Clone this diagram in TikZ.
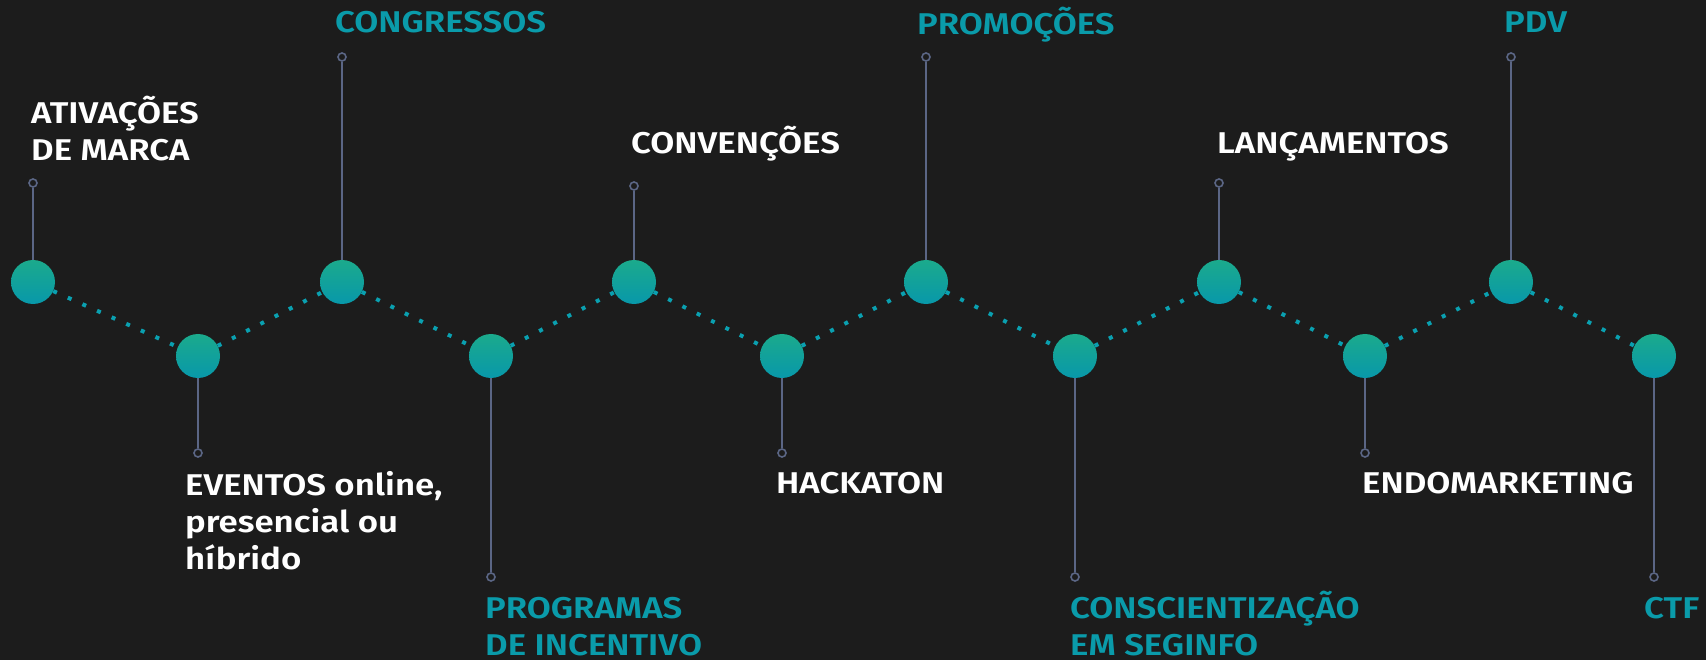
\documentclass[tikz,border=0pt]{standalone}
\usepackage{fontspec}
\setmainfont{Fira Sans}[UprightFont=* SemiBold, FakeStretch=1.16]
\definecolor{bg}{HTML}{1C1C1C}
\definecolor{tealtxt}{HTML}{0A9BAA}
\definecolor{dotc}{HTML}{0AA0B0}
\definecolor{stemc}{HTML}{5B6685}
\definecolor{ctop}{HTML}{1BAA8C}
\definecolor{cbot}{HTML}{0898AA}
\tikzset{
  x=1pt, y=-1pt,
  dot/.style={circle, minimum size=44pt, inner sep=0pt, shading=axis, top color=ctop, bottom color=cbot, draw=none},
  ring/.style={circle, minimum size=8pt, inner sep=0pt, draw=stemc, line width=1.6pt},
  stem/.style={draw=stemc, line width=1.8pt},
  link/.style={draw=dotc, line width=4pt, dash pattern=on 4pt off 12pt},
  lbl/.style={anchor=base west, inner sep=0pt, align=left, font=\fontsize{30}{37}\selectfont},
  wlbl/.style={lbl, text=white},
  tlbl/.style={lbl, text=tealtxt}
}
\begin{document}
\begin{tikzpicture}
\fill[bg] (0,0) rectangle (1706,660);
\useasboundingbox (0,0) rectangle (1706,660);
% main nodes
\node[dot] (n1) at (33,282) {};
\node[dot] (n2) at (198,356) {};
\node[dot] (n3) at (342,282) {};
\node[dot] (n4) at (491,356) {};
\node[dot] (n5) at (634,282) {};
\node[dot] (n6) at (782,356) {};
\node[dot] (n7) at (926,282) {};
\node[dot] (n8) at (1075,356) {};
\node[dot] (n9) at (1219,282) {};
\node[dot] (n10) at (1365,356) {};
\node[dot] (n11) at (1511,282) {};
\node[dot] (n12) at (1654,356) {};
% dotted links
\foreach \a/\b in {n1/n2,n2/n3,n3/n4,n4/n5,n5/n6,n6/n7,n7/n8,n8/n9,n9/n10,n10/n11,n11/n12}
  \draw[link] (\a) -- (\b);
% rings
\node[ring] (r1) at (33,183) {};
\node[ring] (r2) at (198,453) {};
\node[ring] (r3) at (342,57) {};
\node[ring] (r4) at (491,577) {};
\node[ring] (r5) at (634,186) {};
\node[ring] (r6) at (782,453) {};
\node[ring] (r7) at (926,57) {};
\node[ring] (r8) at (1075,577) {};
\node[ring] (r9) at (1219,183) {};
\node[ring] (r10) at (1365,453) {};
\node[ring] (r11) at (1511,57) {};
\node[ring] (r12) at (1654,577) {};
\foreach \i in {1,...,12}
  \draw[stem] (n\i) -- (r\i);
% labels (base = last line for multi-line labels)
\node[wlbl] (t1) at (31,161) {ATIVAÇÕES\\DE MARCA};
\node[wlbl] (t2) at (185,569) {EVENTOS online,\\presencial ou\\híbrido};
\node[tlbl] (t3) at (335,33) {CONGRESSOS};
\node[tlbl] (t4) at (485,655) {PROGRAMAS\\DE INCENTIVO};
\node[wlbl] (t5) at (631,154) {CONVENÇÕES};
\node[wlbl] (t6) at (776,493) {HACKATON};
\node[tlbl] (t7) at (917,35) {PROMOÇÕES};
\node[tlbl] (t8) at (1070,655) {CONSCIENTIZAÇÃO\\EM SEGINFO};
\node[wlbl] (t9) at (1217,154) {LANÇAMENTOS};
\node[wlbl] (t10) at (1362,493) {ENDOMARKETING};
\node[tlbl] (t11) at (1504,33) {PDV};
\node[tlbl] (t12) at (1644,618) {CTF};
\end{tikzpicture}
\end{document}
